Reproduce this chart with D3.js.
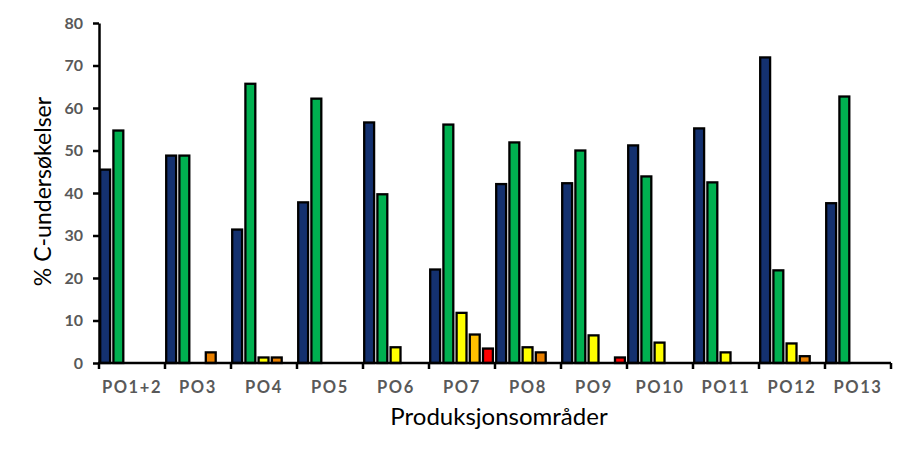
<!DOCTYPE html>
<html>
<head>
<meta charset="utf-8">
<script src="https://cdn.jsdelivr.net/npm/d3@7"></script>
<style>
  html, body { margin: 0; padding: 0; background: #fff; }
  svg { display: block; }
</style>
</head>
<body>
<svg id="chart" width="913" height="458"></svg>
<script>
// ---- data ----
const categories = ["PO1+2","PO3","PO4","PO5","PO6","PO7","PO8","PO9","PO10","PO11","PO12","PO13"];
const seriesBlue   = [45.5, 48.8, 31.4, 37.8, 56.6, 22.0, 42.1, 42.3, 51.2, 55.2, 71.9, 37.6];
const seriesGreen  = [54.7, 48.8, 65.7, 62.2, 39.7, 56.1, 51.9, 50.0, 43.9, 42.5, 21.8, 62.7];
const seriesYellow = [null, null, 1.3, null, 3.7, 11.8, 3.7, 6.5, 4.8, 2.5, 4.6, null];
const seriesOrange = [null, 2.5, 1.3, null, null, 6.7, 2.5, null, null, null, 1.6, null];
const seriesRed    = [null, null, null, null, null, 3.4, null, 1.3, null, null, null, null];
const yTicks = [0, 10, 20, 30, 40, 50, 60, 70, 80];
const yTitle = "% C-undersøkelser";
const xTitle = "Produksjonsområder";

// ---- styles ----
const seriesColors = ["#14316F", "#00B050", "#FFFF00", "#E98000", "#FF0000"];
const pointColorOverrides = { "3|PO7": "#FFC000" };

const allSeries = [seriesBlue, seriesGreen, seriesYellow, seriesOrange, seriesRed];

const svg = d3.select("#chart");
const margin = { left: 99, right: 22, top: 23, bottom: 95 };

const x = d3.scaleBand().domain(categories).range([margin.left, 891]).padding(0);
const sub = d3.scaleBand().domain(d3.range(allSeries.length)).range([0, x.bandwidth()]).padding(0);
const y = d3.scaleLinear().domain([0, 80]).range([363, 23]);

const font = "Lato, 'Open Sans', sans-serif";

// bars
const barData = [];
allSeries.forEach((s, si) => {
  s.forEach((v, ci) => {
    if (v !== null && v !== undefined) barData.push({ si, cat: categories[ci], v });
  });
});

svg.append("g").selectAll("rect").data(barData).join("rect")
  .attr("x", d => x(d.cat) + sub(d.si) + 1.2)
  .attr("y", d => y(d.v))
  .attr("width", sub.bandwidth() - 3.3)
  .attr("height", d => y(0) - y(d.v))
  .attr("fill", d => pointColorOverrides[d.si + "|" + d.cat] || seriesColors[d.si])
  .attr("stroke", "#000")
  .attr("stroke-width", 2.3);

// y axis
const yAxis = svg.append("g")
  .attr("transform", `translate(${margin.left},0)`)
  .call(d3.axisLeft(y).tickValues(yTicks).tickSize(6).tickPadding(10).tickSizeOuter(0));
yAxis.select(".domain").attr("stroke", "#000").attr("stroke-width", 2.5);
yAxis.selectAll(".tick line").attr("stroke", "#000").attr("stroke-width", 2.5);
yAxis.selectAll(".tick text")
  .attr("fill", "#595959")
  .style("font-family", font)
  .style("font-size", "16px")
  .style("font-weight", "bold");

// x axis
const xAxis = svg.append("g")
  .attr("transform", `translate(0,${y(0)})`)
  .call(d3.axisBottom(x).tickSize(0).tickPadding(18));
xAxis.select(".domain").attr("stroke", "#000").attr("stroke-width", 2.5)
  .attr("d", `M${margin.left - 1},0H891`);
xAxis.selectAll(".tick text")
  .attr("fill", "#595959")
  .style("font-family", font)
  .style("font-size", "16.5px")
  .style("font-weight", "bold")
  .style("letter-spacing", "1.6px");

// x tick marks at category boundaries
const boundaries = categories.map(c => x(c)).concat([x(categories[categories.length - 1]) + x.bandwidth()]);
svg.append("g").selectAll("line").data(boundaries).join("line")
  .attr("x1", d => d).attr("x2", d => d)
  .attr("y1", y(0)).attr("y2", y(0) + 6)
  .attr("stroke", "#000").attr("stroke-width", 2.5);

// titles
svg.append("text")
  .attr("transform", `translate(51,191.5) rotate(-90)`)
  .attr("text-anchor", "middle")
  .style("font-family", font)
  .style("font-size", "23px")
  .attr("fill", "#000")
  .text(yTitle);

svg.append("text")
  .attr("x", 499).attr("y", 425)
  .attr("text-anchor", "middle")
  .style("font-family", font)
  .style("font-size", "24px")
  .attr("fill", "#000")
  .text(xTitle);
</script>
</body>
</html>
